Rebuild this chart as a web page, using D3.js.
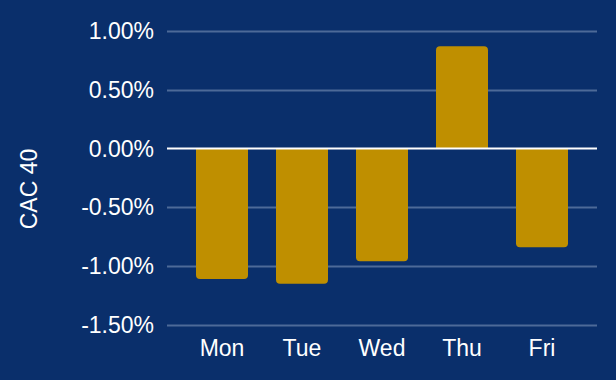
<!DOCTYPE html>
<html><head><meta charset="utf-8">
<script src="https://cdn.jsdelivr.net/npm/d3@7"></script>
<style>html,body{margin:0;padding:0;background:#0a2f6b;}svg{display:block;}</style>
</head><body>
<svg id="chart" width="616" height="380"></svg>
<script>
const categories = ["Mon", "Tue", "Wed", "Thu", "Fri"];
const values = [-1.11, -1.15, -0.96, 0.87, -0.84];
const tickValues = [-1.5, -1.0, -0.5, 0, 0.5, 1.0];
const yLabel = "CAC 40";

const W = 616, H = 380;
const bg = "#0a2f6b", barColor = "#bf8f00", gridColor = "#4d6a98";
const font = "Liberation Sans, Arial, sans-serif";
const svg = d3.select("#chart");
svg.append("rect").attr("width", W).attr("height", H).attr("fill", bg);

const x = d3.scaleBand().domain(categories).range([167, 597]).paddingInner(0.35).paddingOuter(0.3625);
const y = d3.scaleLinear().domain([-1.5, 1.0]).range([324.75, 31]);

// gridlines
svg.append("g").selectAll("line").data(tickValues.filter(d => d !== 0)).join("line")
  .attr("x1", 167).attr("x2", 597)
  .attr("y1", d => Math.round(y(d)) + 0.5).attr("y2", d => Math.round(y(d)) + 0.5)
  .attr("stroke", gridColor).attr("stroke-width", 2);

// tick labels
const fmt = d => d.toFixed(2) + "%";
svg.append("g").selectAll("text").data(tickValues).join("text")
  .attr("x", 154).attr("y", d => y(d))
  .attr("text-anchor", "end").attr("dominant-baseline", "central")
  .attr("fill", "#fff").attr("font-family", font).attr("font-size", 23)
  .text(fmt);

// bars with rounded far end
const r = 4;
function barPath(d, i) {
  const x0 = x(categories[i]), w = x.bandwidth();
  const y0 = y(0), y1 = y(d);
  if (d >= 0) {
    return `M${x0},${y0}V${y1 + r}Q${x0},${y1} ${x0 + r},${y1}H${x0 + w - r}Q${x0 + w},${y1} ${x0 + w},${y1 + r}V${y0}Z`;
  } else {
    return `M${x0},${y0}V${y1 - r}Q${x0},${y1} ${x0 + r},${y1}H${x0 + w - r}Q${x0 + w},${y1} ${x0 + w},${y1 - r}V${y0}Z`;
  }
}
svg.append("g").selectAll("path").data(values).join("path")
  .attr("d", barPath).attr("fill", barColor);

// zero line
svg.append("line").attr("x1", 167).attr("x2", 597)
  .attr("y1", y(0)).attr("y2", y(0))
  .attr("stroke", "#fff").attr("stroke-width", 2);

// x labels
svg.append("g").selectAll("text").data(categories).join("text")
  .attr("x", d => x(d) + x.bandwidth() / 2).attr("y", 356)
  .attr("text-anchor", "middle")
  .attr("fill", "#fff").attr("font-family", font).attr("font-size", 23)
  .text(d => d);

// y axis label
svg.append("text")
  .attr("transform", "translate(37,189) rotate(-90)")
  .attr("text-anchor", "middle")
  .attr("fill", "#fff").attr("font-family", font).attr("font-size", 23)
  .text(yLabel);
</script>
</body></html>
